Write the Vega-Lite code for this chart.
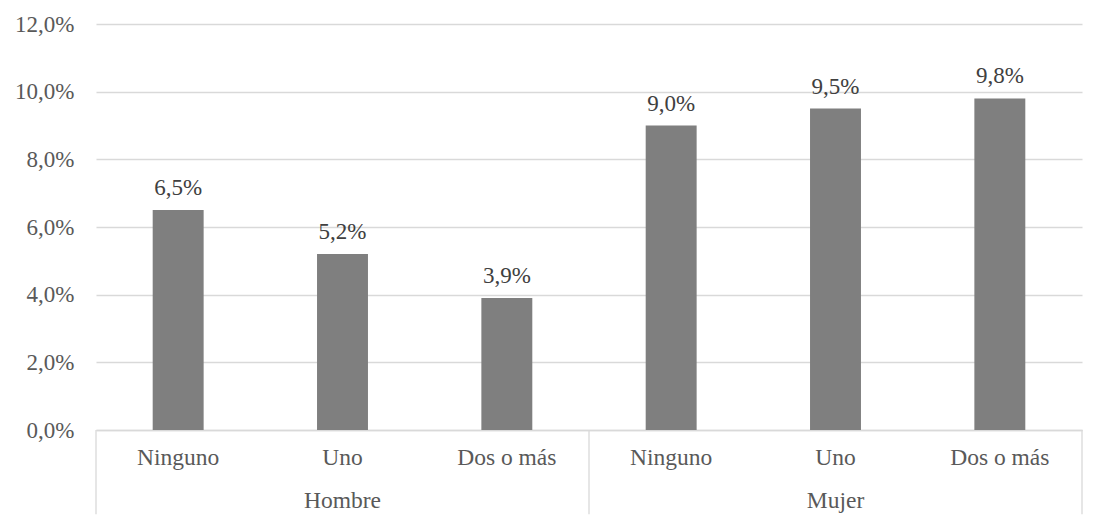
{
  "$schema": "https://vega.github.io/schema/vega-lite/v6.json",
  "description": "Porcentaje por sexo y número de hijos",
  "autosize": {"type": "none"},
  "padding": {"left": 96, "top": 24, "right": 23, "bottom": 95},
  "width": 986,
  "height": 406,
  "background": "white",
  "config": {
    "locale": {"number": {"decimal": ",", "thousands": ".", "grouping": [3], "currency": ["", " €"]}},
    "view": {"stroke": null},
    "font": "Liberation Serif"
  },
  "data": {
    "values": [
      {"sexo": "Hombre", "hijos": "Ninguno", "key": "Hombre|Ninguno", "valor": 0.065},
      {"sexo": "Hombre", "hijos": "Uno", "key": "Hombre|Uno", "valor": 0.052},
      {"sexo": "Hombre", "hijos": "Dos o más", "key": "Hombre|Dos o más", "valor": 0.039},
      {"sexo": "Mujer", "hijos": "Ninguno", "key": "Mujer|Ninguno", "valor": 0.090},
      {"sexo": "Mujer", "hijos": "Uno", "key": "Mujer|Uno", "valor": 0.095},
      {"sexo": "Mujer", "hijos": "Dos o más", "key": "Mujer|Dos o más", "valor": 0.098}
    ]
  },
  "encoding": {
    "x": {
      "field": "key",
      "type": "nominal",
      "sort": null,
      "scale": {"paddingInner": 0, "paddingOuter": 0},
      "axis": {
        "title": null,
        "labelExpr": "split(datum.label, '|')[1]",
        "labelAngle": 0,
        "labelFont": "Liberation Serif",
        "labelFontSize": 23.5,
        "labelColor": "#595959",
        "labelPadding": 15,
        "ticks": false,
        "grid": false,
        "domain": true,
        "domainColor": "#d9d9d9",
        "domainWidth": 1.3
      }
    },
    "y": {
      "field": "valor",
      "type": "quantitative",
      "scale": {"domain": [0, 0.12], "nice": false},
      "axis": {
        "title": null,
        "values": [0, 0.02, 0.04, 0.06, 0.08, 0.1, 0.12],
        "format": ".1%",
        "labelFont": "Liberation Serif",
        "labelFontSize": 23,
        "labelColor": "#595959",
        "labelPadding": 22,
        "ticks": false,
        "domain": false,
        "grid": true,
        "gridColor": "#d9d9d9",
        "gridWidth": 1.3
      }
    }
  },
  "layer": [
    {
      "mark": {"type": "bar", "width": {"band": 0.31}, "color": "#7f7f7f"}
    },
    {
      "mark": {"type": "text", "font": "Liberation Serif", "fontSize": 23, "color": "#404040", "baseline": "alphabetic", "dy": -15},
      "encoding": {
        "text": {"field": "valor", "type": "quantitative", "format": ".1%"}
      }
    },
    {
      "transform": [{"filter": "datum.hijos === 'Ninguno'"}],
      "mark": {"type": "rule", "color": "#d9d9d9", "strokeWidth": 1.3},
      "encoding": {
        "x": {"field": "key", "type": "nominal", "bandPosition": 0},
        "y": {"datum": 0},
        "y2": {"datum": -0.0249}
      }
    },
    {
      "transform": [{"filter": "datum.key === 'Mujer|Dos o más'"}],
      "mark": {"type": "rule", "color": "#d9d9d9", "strokeWidth": 1.3},
      "encoding": {
        "x": {"field": "key", "type": "nominal", "bandPosition": 1},
        "y": {"datum": 0},
        "y2": {"datum": -0.0249}
      }
    },
    {
      "transform": [{"filter": "datum.hijos === 'Uno'"}],
      "mark": {"type": "text", "font": "Liberation Serif", "fontSize": 23.5, "color": "#595959", "baseline": "alphabetic"},
      "encoding": {
        "y": {"datum": -0.0232},
        "text": {"field": "sexo", "type": "nominal"}
      }
    }
  ]
}
